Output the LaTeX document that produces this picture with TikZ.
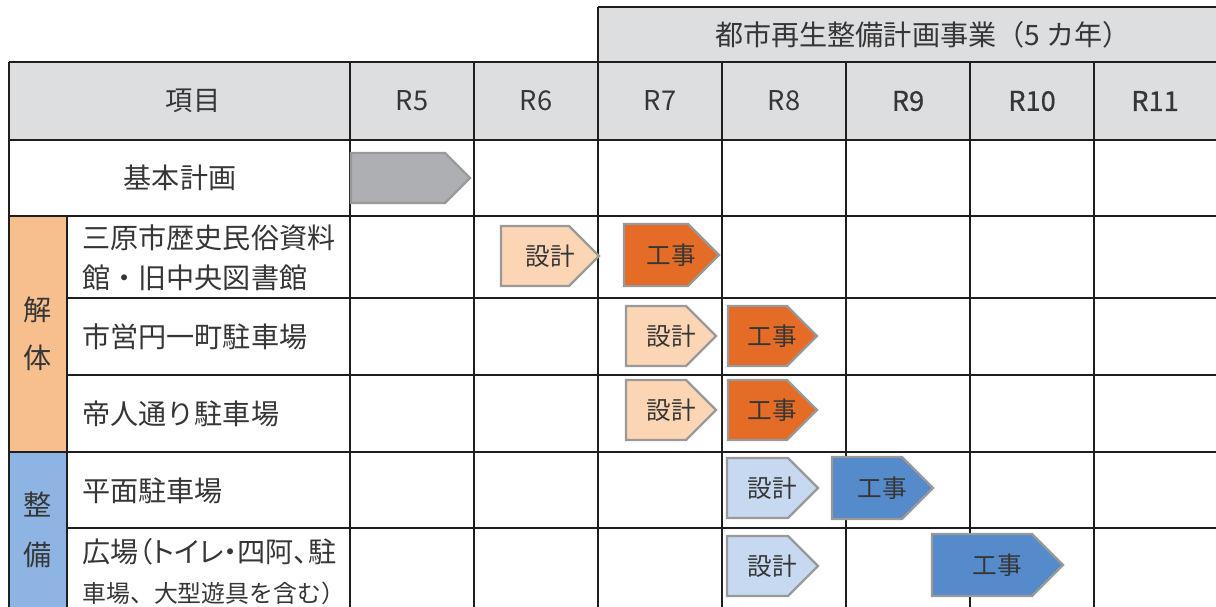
\documentclass[tikz,border=0pt]{standalone}
\usepackage{fontspec}
\setmainfont{Noto Sans CJK JP}
\newfontfamily\propjp[RawFeature=+palt]{Noto Sans CJK JP}
\newfontfamily\heavyjp[FakeBold=0.5]{Noto Sans CJK JP}

\definecolor{headgray}{HTML}{DDDEE0}
\definecolor{kaitaicol}{HTML}{F7BE8E}
\definecolor{seibicol}{HTML}{8DB4E2}
\definecolor{plangray}{HTML}{AEAFB2}
\definecolor{designorange}{HTML}{FCD5B5}
\definecolor{workorange}{HTML}{E46C26}
\definecolor{designblue}{HTML}{C6D9F0}
\definecolor{workblue}{HTML}{558ACB}
\definecolor{inkgray}{HTML}{363636}

\tikzset{
    rule/.style={line width=1.2pt, color=black!88},
    phase/.style={draw=black!40, line width=1.3pt, line join=miter},
    yearlabel/.style={font=\fontsize{15.5}{17}\selectfont, text=inkgray, inner sep=0pt},
    itemlabel/.style={font=\fontsize{16}{22.8}\selectfont, text=inkgray, align=left, anchor=west, inner sep=0pt},
    sidelabel/.style={font=\fontsize{16}{27.5}\selectfont, text=inkgray, align=center, inner sep=0pt},
    taglabel/.style={font=\fontsize{14}{16}\selectfont, text=inkgray, inner sep=0pt},
}

% \phasebox{name}{fill}{left}{tip}{mid y}{half height}{label}
\newcommand{\phasebox}[7]{%
    \filldraw[phase, fill=#2] (#3,{#5-#6}) -- ({#4-#6},{#5-#6}) -- (#4,#5)
        -- ({#4-#6},{#5+#6}) -- (#3,{#5+#6}) -- cycle;
    \node[taglabel] (#1) at ({(#3+#4)/2},#5) {#7};}

\begin{document}
\begin{tikzpicture}[x=0.02cm, y=-0.02cm]
    \useasboundingbox (0,0) rectangle (1216,607);

    % fills
    \fill[headgray] (598,7) rectangle (1230,62);
    \fill[headgray] (9,62) rectangle (1230,140);
    \fill[kaitaicol] (9,216) rectangle (67,452);
    \fill[seibicol] (9,452) rectangle (67,620);

    % table rules
    \draw[rule] (598,7) -- (1230,7) (598,7) -- (598,62);
    \draw[rule] (9,62) -- (1230,62) (9,140) -- (1230,140) (9,216) -- (1230,216)
        (9,452) -- (1230,452);
    \draw[rule] (67,298) -- (1230,298) (67,375) -- (1230,375) (67,528) -- (1230,528);
    \draw[rule] (9,62) -- (9,620) (67,216) -- (67,620);
    \draw[rule] (350,62) -- (350,620) (474,62) -- (474,620) (598,62) -- (598,620)
        (722,62) -- (722,620) (846,62) -- (846,620) (970,62) -- (970,620)
        (1094,62) -- (1094,620);

    % header
    \node[yearlabel, font=\fontsize{16}{17}\selectfont] (jigyou) at (923,35) {都市再生整備計画事業（5 カ年）};
    \node[yearlabel] (koumoku) at (193,101) {項目};
    \node[yearlabel] (r5) at (412,101) {R5};
    \node[yearlabel] (r6) at (536,101) {R6};
    \node[yearlabel] (r7) at (660,101) {R7};
    \node[yearlabel] (r8) at (784,101) {R8};
    \node[yearlabel, font=\heavyjp\fontsize{15.5}{17}\selectfont] (r9) at (908,101) {R9};
    \node[yearlabel, font=\heavyjp\fontsize{15.5}{17}\selectfont] (r10) at (1032,101) {R10};
    \node[yearlabel, font=\heavyjp\fontsize{15.5}{17}\selectfont] (r11) at (1155,101) {R11};

    % items
    \node[itemlabel, anchor=center] (kihon) at (180,178) {基本計画};
    \node[sidelabel] (kaitai) at (38,334) {解\\体};
    \node[sidelabel, font=\fontsize{16}{28.5}\selectfont] (seibi) at (38,530) {整\\備};
    \node[itemlabel] (rekishi) at (82,258) {三原市歴史民俗資料\\館・旧中央図書館};
    \node[itemlabel] (miyaen) at (82,337) {市営円一町駐車場};
    \node[itemlabel] (teijin) at (82,414) {帝人通り駐車場};
    \node[itemlabel] (heimen) at (82,491) {平面駐車場};
    \node[itemlabel] (hiroba) at (82,572)
        {{\propjp 広場（トイレ・四阿、駐}\\{\fontsize{13.6}{22.8}\selectfont 車場、大型遊具を含む）}};

    % phases
    \phasebox{plan}{plangray}{351}{470}{178}{25}{}
    \phasebox{design1}{designorange}{501}{599}{256}{30}{設計}
    \phasebox{work1}{workorange}{624}{719}{255}{31}{工事}
    \phasebox{design2}{designorange}{626}{716}{336}{30}{設計}
    \phasebox{work2}{workorange}{728}{817}{336}{30}{工事}
    \phasebox{design3}{designorange}{626}{716}{410}{30}{設計}
    \phasebox{work3}{workorange}{728}{817}{410}{30}{工事}
    \phasebox{design4}{designblue}{727}{818}{488}{30}{設計}
    \phasebox{work4}{workblue}{832}{933}{488}{31}{工事}
    \phasebox{design5}{designblue}{727}{818}{566}{30}{設計}
    \phasebox{work5}{workblue}{932}{1063}{565}{31}{工事}
\end{tikzpicture}
\end{document}
